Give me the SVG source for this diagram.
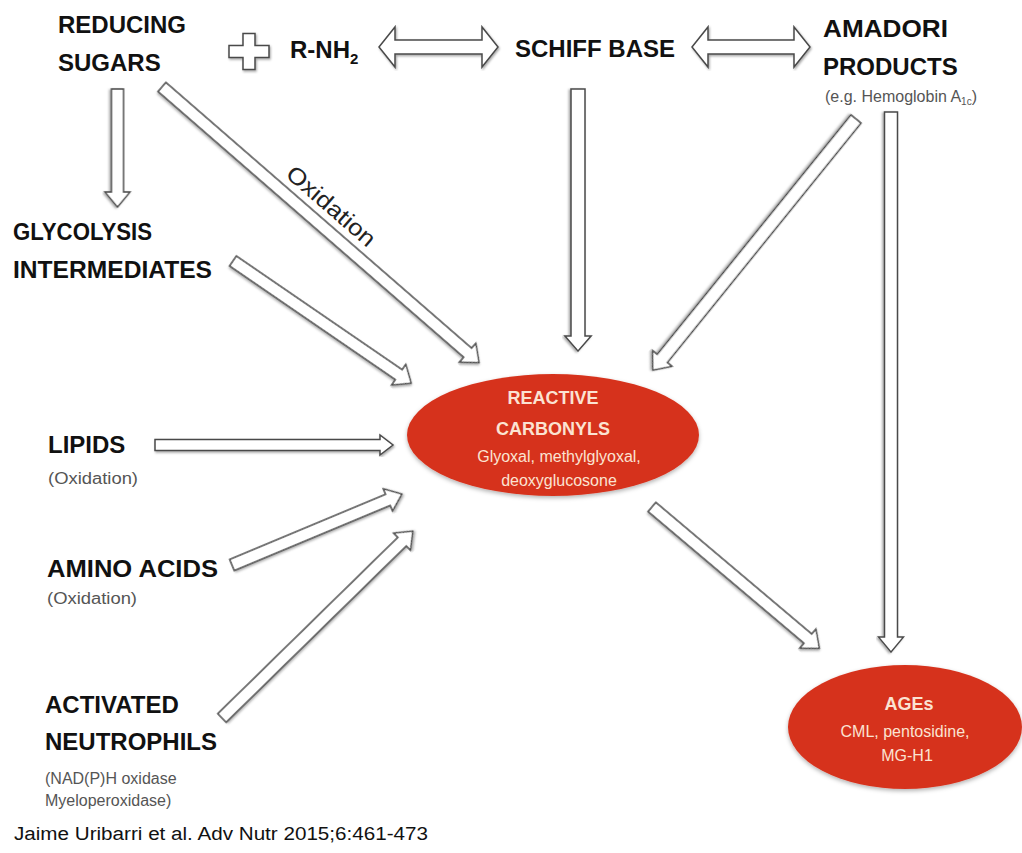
<svg xmlns="http://www.w3.org/2000/svg" width="1022" height="853" viewBox="0 0 1022 853">
<defs>
<filter id="sh" x="-10%" y="-10%" width="120%" height="120%">
<feDropShadow dx="1" dy="1.5" stdDeviation="1.2" flood-color="#000" flood-opacity="0.35"/>
</filter>
<filter id="esh" x="-10%" y="-10%" width="120%" height="125%">
<feDropShadow dx="0" dy="2" stdDeviation="2" flood-color="#000" flood-opacity="0.3"/>
</filter>
</defs>
<style>
.lbl{font-family:"Liberation Sans",Arial,sans-serif;font-weight:bold;font-size:24px;fill:#111}
.sub{font-family:"Liberation Sans",Arial,sans-serif;font-size:16px;fill:#555}
.arr{fill:#fff;stroke:#4a4a4a;stroke-width:1.5;stroke-linejoin:miter;filter:url(#sh)}
.ell{fill:#d6331d;filter:url(#esh)}
.et{font-family:"Liberation Sans",Arial,sans-serif;font-weight:bold;font-size:18px;fill:#fbe3d2;text-anchor:middle}
.es{font-family:"Liberation Sans",Arial,sans-serif;font-size:16px;fill:#fbe3d2;text-anchor:middle}
</style>
<rect width="1022" height="853" fill="#fff"/>

<g id="connectors">
<path class="arr" d="M379,47 L395,27 V40 H482 V27 L498,47 L482,67 V54 H395 V67 Z"/>
<path class="arr" d="M692,47 L708,27 V40 H794 V27 L810,47 L794,67 V54 H708 V67 Z"/>
<path class="arr" transform="translate(117.5,89) rotate(90)" d="M0,-6 H103 V-12.5 L118,0 L103,12.5 V6 H0 Z"/>
<path class="arr" transform="translate(162,87) rotate(41)" d="M0,-6 H405 V-12.5 L420,0 L405,12.5 V6 H0 Z"/>
<path class="arr" transform="translate(233,261) rotate(34.44)" d="M0,-6 H201 V-12.5 L216,0 L201,12.5 V6 H0 Z"/>
<path class="arr" transform="translate(578,89) rotate(90)" d="M0,-7 H247 V-13 L262,0 L247,13 V7 H0 Z"/>
<path class="arr" transform="translate(856,119) rotate(128.97)" d="M0,-6.5 H308 V-12.5 L323,0 L308,12.5 V6.5 H0 Z"/>
<path class="arr" transform="translate(891,112) rotate(90)" d="M0,-6.5 H525 V-12.5 L540,0 L525,12.5 V6.5 H0 Z"/>
<path class="arr" transform="translate(155,445)" d="M0,-5.5 H225 V-10 L238,0 L225,10 V5.5 H0 Z"/>
<path class="arr" transform="translate(232,565) rotate(-22.67)" d="M0,-6 H169 V-12 L184,0 L169,12 V6 H0 Z"/>
<path class="arr" transform="translate(222,718) rotate(-44.4)" d="M0,-6 H252 V-12 L267,0 L252,12 V6 H0 Z"/>
<path class="arr" transform="translate(652,507) rotate(40.18)" d="M0,-6 H204 V-12.5 L219,0 L204,12.5 V6 H0 Z"/>
<text transform="translate(326,212) rotate(41)" text-anchor="middle" font-family="Liberation Sans, Arial, sans-serif" font-size="23" fill="#222" textLength="110" lengthAdjust="spacingAndGlyphs">Oxidation</text>
</g>

<g id="reducing-sugars">
<text class="lbl" x="58" y="33">REDUCING</text>
<text class="lbl" x="58" y="71">SUGARS</text>
</g>
<g id="plus">
<path class="arr" d="M243,33.5 H255 V45.5 H269 V57.5 H255 V69.5 H243 V57.5 H229 V45.5 H243 Z"/>
</g>
<g id="rnh2">
<text class="lbl" x="290" y="58">R-NH<tspan font-size="15" dy="6">2</tspan></text>
</g>
<g id="schiff-base">
<text class="lbl" x="515" y="57" font-size="23">SCHIFF BASE</text>
</g>
<g id="amadori">
<text class="lbl" x="823" y="37" textLength="125" lengthAdjust="spacingAndGlyphs">AMADORI</text>
<text class="lbl" x="823" y="75">PRODUCTS</text>
<text class="sub" x="825" y="102" font-size="15">(e.g. Hemoglobin A<tspan font-size="10" dy="3">1c</tspan><tspan dy="-3">)</tspan></text>
</g>
<g id="glycolysis">
<text class="lbl" x="13" y="240" textLength="139" lengthAdjust="spacingAndGlyphs">GLYCOLYSIS</text>
<text class="lbl" x="13" y="278" textLength="199" lengthAdjust="spacingAndGlyphs">INTERMEDIATES</text>
</g>
<g id="lipids">
<text class="lbl" x="48" y="453">LIPIDS</text>
<text class="sub" x="48" y="484" font-size="17" textLength="90" lengthAdjust="spacingAndGlyphs">(Oxidation)</text>
</g>
<g id="amino-acids">
<text class="lbl" x="47" y="577" textLength="171" lengthAdjust="spacingAndGlyphs">AMINO ACIDS</text>
<text class="sub" x="47" y="604" font-size="17" textLength="90" lengthAdjust="spacingAndGlyphs">(Oxidation)</text>
</g>
<g id="neutrophils">
<text class="lbl" x="45" y="713">ACTIVATED</text>
<text class="lbl" x="45" y="750">NEUTROPHILS</text>
<text class="sub" x="45" y="784">(NAD(P)H oxidase</text>
<text class="sub" x="45" y="806">Myeloperoxidase)</text>
</g>
<g id="reactive-carbonyls">
<ellipse class="ell" cx="553" cy="435" rx="146" ry="61"/>
<text class="et" x="553" y="404">REACTIVE</text>
<text class="et" x="553" y="435">CARBONYLS</text>
<text class="es" x="559" y="462">Glyoxal, methylglyoxal,</text>
<text class="es" x="559" y="486">deoxyglucosone</text>
</g>
<g id="ages">
<ellipse class="ell" cx="905" cy="727" rx="117" ry="62"/>
<text class="et" x="909" y="710">AGEs</text>
<text class="es" x="905" y="737">CML, pentosidine,</text>
<text class="es" x="907" y="761">MG-H1</text>
</g>
<g id="citation">
<text x="14" y="840" font-family="Liberation Sans, Arial, sans-serif" font-size="18" fill="#111" textLength="414" lengthAdjust="spacingAndGlyphs">Jaime Uribarri et al. Adv Nutr 2015;6:461-473</text>
</g>
</svg>
